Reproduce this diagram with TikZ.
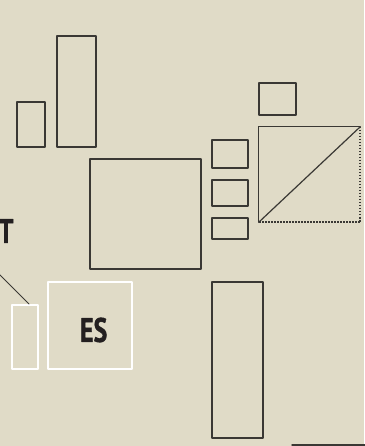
\documentclass[tikz,border=0pt]{standalone}
\usepackage{fontspec}
\newfontfamily\labelfont[FakeStretch=0.76, BoldFeatures={FakeBold=1.2}]{PT Sans}

\definecolor{paper}{RGB}{224,219,199}
\definecolor{ink}{RGB}{58,56,52}
\definecolor{lettering}{RGB}{35,31,32}

\tikzset{
  frame/.style={draw=ink, line width=1.2pt, inner sep=0pt},
  whiteframe/.style={draw=white, line width=2pt, inner sep=0pt},
  dots/.style={draw=ink, line width=1.8pt, line cap=butt, dash pattern=on 1.7pt off 1.3pt},
  tag/.style={text=lettering, font=\labelfont\bfseries\fontsize{34}{34}\selectfont, inner sep=0pt}
}

\begin{document}
\begin{tikzpicture}[x=1pt,y=-1pt, line cap=round, line join=round]

% -----------------------------
% Canvas
% -----------------------------
\fill[paper] (0,0) rectangle (364,446);
\useasboundingbox (0,0) rectangle (364,446);

% -----------------------------
% Left pillars
% -----------------------------
\node[frame, minimum width=28pt, minimum height=45pt]  (pillarS) at (31,124.5) {};
\node[frame, minimum width=39pt, minimum height=111pt] (pillarT) at (76.5,91.5) {};

% -----------------------------
% Central block
% -----------------------------
\node[frame, minimum width=111pt, minimum height=110pt] (core) at (145.5,214) {};

% -----------------------------
% Right column of small boxes
% -----------------------------
\node[frame, minimum width=37pt, minimum height=32pt] (cap) at (277.5,99) {};
\node[frame, minimum width=36pt, minimum height=28pt] (slotA) at (230,154) {};
\node[frame, minimum width=36pt, minimum height=26pt] (slotB) at (230,193) {};
\node[frame, minimum width=36pt, minimum height=21pt] (slotC) at (230,228.5) {};

% Split square: solid top/left and diagonal, dotted right/bottom
\node[minimum width=101pt, minimum height=95pt, inner sep=0pt] (split) at (309.5,174.5) {};
\draw[ink, line width=1.2pt] (split.south west) -- (split.north west) -- (split.north east);
\draw[ink, line width=1.2pt] (split.south west) -- (split.north east);
\draw[dots] (split.north east) -- (split.south east) -- (split.south west);

% Tall box bottom right
\node[frame, minimum width=51pt, minimum height=156pt] (tower) at (237.5,360) {};

% edge of a box running off the page
\coordinate (rimL) at (292,445);
\coordinate (rimR) at (366,445);
\draw[ink, line width=1.4pt] (rimL) -- (rimR);

% -----------------------------
% Highlighted (white) boxes and labels
% -----------------------------
\node[whiteframe, minimum width=26pt, minimum height=64pt] (slot) at (25,337) {};
\node[whiteframe, minimum width=84pt, minimum height=87pt] (es) at (90,325.5) {};
\node[tag] (esLabel) at (93.7,330) {ES};

\node[tag] (tLabel) at (6,231) {T};
\coordinate (tLine) at (-2,273);
\draw[ink, line width=1pt] (tLine) -- ([xshift=4pt]slot.north);

\end{tikzpicture}
\end{document}
